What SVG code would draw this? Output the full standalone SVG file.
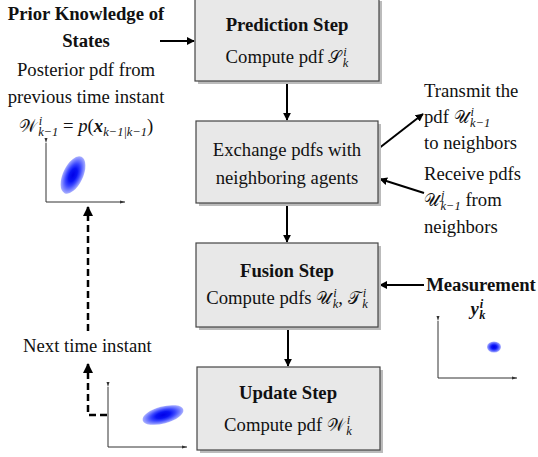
<svg xmlns="http://www.w3.org/2000/svg" width="538" height="457" viewBox="0 0 538 457" font-family="Liberation Serif, Times New Roman, serif">
<defs>
<style>
.box{fill:#e8e8e8;stroke:#444;stroke-width:1.2}
.shadow{fill:#bbb}
.t{font-size:18.7px;fill:#111}
.b{font-weight:bold}
.c{text-anchor:middle}
.i{font-style:italic}
.s{font-size:12.5px}
.cal{font-size:17px}
.conn{stroke:#000;stroke-width:2;fill:none}
.dash{stroke:#000;stroke-width:2.5;fill:none;stroke-dasharray:7,4}
.ax{stroke:#333;stroke-width:1;fill:none}
</style>
<marker id="ah" viewBox="0 0 10 10" refX="9" refY="5" markerWidth="4" markerHeight="4" orient="auto-start-reverse"><path d="M0,0 L10,5 L0,10 z" fill="#000"/></marker>
<marker id="sa" viewBox="0 0 10 10" refX="10" refY="5" markerWidth="5" markerHeight="5" orient="auto"><path d="M0,2 L10,5 L0,8 z" fill="#333"/></marker>
<radialGradient id="g"><stop offset="0" stop-color="#0000e8"/><stop offset="0.35" stop-color="#0a14f5"/><stop offset="0.6" stop-color="#3a46ff"/><stop offset="0.85" stop-color="#7f88ff"/><stop offset="1" stop-color="#aab0ff"/></radialGradient>
</defs>

<g id="connectors">
<line class="conn" x1="160" y1="41" x2="194" y2="41" marker-end="url(#ah)"/>
<line class="conn" x1="287" y1="82" x2="287" y2="120" marker-end="url(#ah)"/>
<line class="conn" x1="287" y1="204" x2="287" y2="242" marker-end="url(#ah)"/>
<line class="conn" x1="288" y1="328" x2="288" y2="366" marker-end="url(#ah)"/>
<line class="conn" x1="378" y1="149" x2="423" y2="114" marker-end="url(#ah)"/>
<line class="conn" x1="424" y1="193" x2="380" y2="179" marker-end="url(#ah)"/>
<line class="conn" x1="424" y1="285" x2="380" y2="285" marker-end="url(#ah)"/>
<line class="dash" x1="88" y1="331" x2="88" y2="207" marker-end="url(#ah)"/>
<polyline class="dash" points="107,415 88,415 88,364" marker-end="url(#ah)"/>
</g>

<g id="prediction">
<rect class="shadow" x="198" y="1" width="184" height="83"/>
<rect class="box" x="195" y="-2" width="184" height="83"/>
<text class="t b c" x="287" y="31">Prediction Step</text>
<text class="t c" x="287" y="63">Compute pdf <tspan class="cal">𝒮</tspan><tspan class="i s" dy="-7" dx="2">i</tspan><tspan class="i s" dy="11" dx="-4">k</tspan></text>
</g>

<g id="exchange">
<rect class="shadow" x="199" y="124" width="182" height="82"/>
<rect class="box" x="196" y="121" width="182" height="82"/>
<text class="t c" x="287" y="156">Exchange pdfs with</text>
<text class="t c" x="287" y="184">neighboring agents</text>
</g>

<g id="fusion">
<rect class="shadow" x="199" y="246" width="182" height="84"/>
<rect class="box" x="196" y="243" width="182" height="84"/>
<text class="t b c" x="287" y="277">Fusion Step</text>
<text class="t c" x="287" y="304">Compute pdfs <tspan class="cal">𝒰</tspan><tspan class="i s" dy="-7" dx="2">i</tspan><tspan class="i s" dy="11" dx="-4">k</tspan><tspan dy="-4">, </tspan><tspan class="cal">𝒯</tspan><tspan class="i s" dy="-7" dx="2">i</tspan><tspan class="i s" dy="11" dx="-4">k</tspan></text>
</g>

<g id="update">
<rect class="shadow" x="200" y="370" width="183" height="83"/>
<rect class="box" x="197" y="367" width="183" height="83"/>
<text class="t b c" x="288" y="399">Update Step</text>
<text class="t c" x="288" y="431">Compute pdf <tspan class="cal">𝒲</tspan><tspan class="i s" dy="-7" dx="2">i</tspan><tspan class="i s" dy="11" dx="-4">k</tspan></text>
</g>

<g id="prior">
<text class="t b c" x="86" y="20">Prior Knowledge of</text>
<text class="t b c" x="86" y="47">States</text>
<text class="t c" x="86" y="76">Posterior pdf from</text>
<text class="t c" x="86" y="103">previous time instant</text>
<text class="t c" x="86" y="132"><tspan class="cal">𝒲</tspan><tspan class="i s" dy="-7" dx="2">i</tspan><tspan class="i s" dy="11" dx="-4">k−1</tspan><tspan dy="-4"> = </tspan><tspan class="i">p</tspan>(<tspan class="i b">x</tspan><tspan class="i s" dy="4">k−1|k−1</tspan><tspan dy="-4">)</tspan></text>
</g>

<g id="plot-prior">
<polyline class="ax" points="46,143 46,202 125,202" marker-start="url(#sa)" marker-end="url(#sa)"/>
<ellipse cx="73" cy="175" rx="10" ry="20" transform="rotate(25 73 175)" fill="url(#g)"/>
</g>

<g id="transmit">
<text class="t" x="424" y="97">Transmit the</text>
<text class="t" x="424" y="123">pdf <tspan class="cal">𝒰</tspan><tspan class="i s" dy="-7" dx="2">i</tspan><tspan class="i s" dy="11" dx="-4">k−1</tspan></text>
<text class="t" x="424" y="149">to neighbors</text>
</g>

<g id="receive">
<text class="t" x="424" y="180">Receive pdfs</text>
<text class="t" x="424" y="206"><tspan class="cal">𝒰</tspan><tspan class="i s" dy="-7" dx="2">j</tspan><tspan class="i s" dy="11" dx="-4">k−1</tspan><tspan dy="-4"> from</tspan></text>
<text class="t" x="424" y="233">neighbors</text>
</g>

<g id="measurement">
<text class="t b c" x="481" y="291">Measurement</text>
<text class="t b c i" x="478" y="315">y<tspan class="s" dy="-7" dx="1">i</tspan><tspan class="s" dy="11" dx="-4">k</tspan></text>
<polyline class="ax" points="438,321 438,378 517,378" marker-start="url(#sa)" marker-end="url(#sa)"/>
<ellipse cx="494" cy="347" rx="7" ry="5.5" fill="url(#g)"/>
</g>

<g id="next">
<text class="t" x="23" y="352">Next time instant</text>
</g>

<g id="plot-update">
<polyline class="ax" points="108,387 108,447 187,447" marker-start="url(#sa)" marker-end="url(#sa)"/>
<ellipse cx="163" cy="415" rx="21" ry="8.5" transform="rotate(-15 163 415)" fill="url(#g)"/>
</g>
</svg>
